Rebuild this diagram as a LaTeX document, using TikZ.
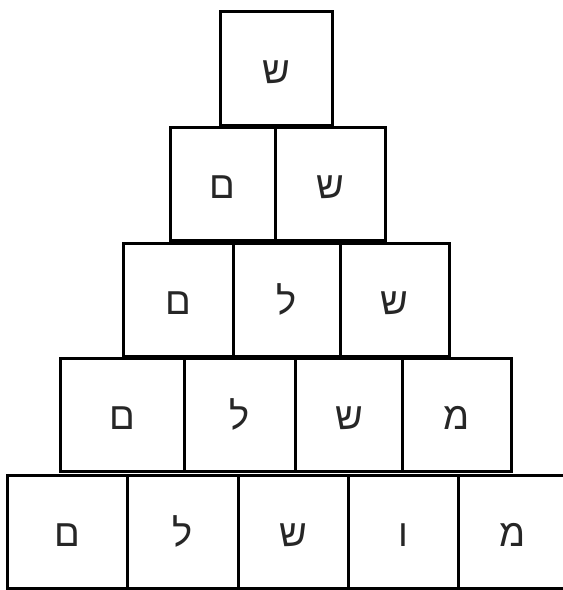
\documentclass[tikz,border=0pt]{standalone}
\usepackage{fontspec}
\newfontfamily\hebfont[Script=Hebrew]{Liberation Sans}
\TeXXeTstate=1
\newcommand\heb[1]{\hebfont\beginR #1\endR}
\begin{document}
\begin{tikzpicture}[x=1pt,y=-1pt,
  cell/.style={draw=black, line width=3pt, rectangle, inner sep=0pt, outer sep=0pt,
    minimum height=113pt, text height=30pt, text depth=0pt,
    font=\fontsize{38}{40}\hebfont, text=black!85}]
\useasboundingbox (0,0) rectangle (563,590);
\begin{scope}
\clip (0,0) rectangle (563,590);
% row 1
\node[cell, minimum width=112pt, minimum height=114pt] (r1c1) at (276,68) {\heb{ש}};
% row 2
\node[cell, minimum width=105pt] (r2c1) at (222.5,183.5) {\heb{ם}};
\node[cell, minimum width=110pt] (r2c2) at (330,183.5) {\heb{ש}};
% row 3
\node[cell, minimum width=109.5pt] (r3c1) at (178.25,299.5) {\heb{ם}};
\node[cell, minimum width=107pt] (r3c2) at (286.5,299.5) {\heb{ל}};
\node[cell, minimum width=109pt] (r3c3) at (394.5,299.5) {\heb{ש}};
% row 4
\node[cell, minimum width=124pt, minimum height=112.5pt] (r4c1) at (122.5,414.75) {\heb{ם}};
\node[cell, minimum width=111pt, minimum height=112.5pt] (r4c2) at (240,414.75) {\heb{ל}};
\node[cell, minimum width=107pt, minimum height=112.5pt] (r4c3) at (349,414.75) {\heb{ש}};
\node[cell, minimum width=108.5pt, minimum height=112.5pt] (r4c4) at (456.75,414.75) {\heb{מ}};
% row 5
\node[cell, minimum width=120.5pt] (r5c1) at (67.25,531.5) {\heb{ם}};
\node[cell, minimum width=110.5pt] (r5c2) at (182.75,531.5) {\heb{ל}};
\node[cell, minimum width=110pt] (r5c3) at (293,531.5) {\heb{ש}};
\node[cell, minimum width=110pt] (r5c4) at (403,531.5) {\heb{ו}};
\node[cell, minimum width=110pt] (r5c5) at (513,531.5) {\heb{מ}};
\end{scope}
\end{tikzpicture}
\end{document}
